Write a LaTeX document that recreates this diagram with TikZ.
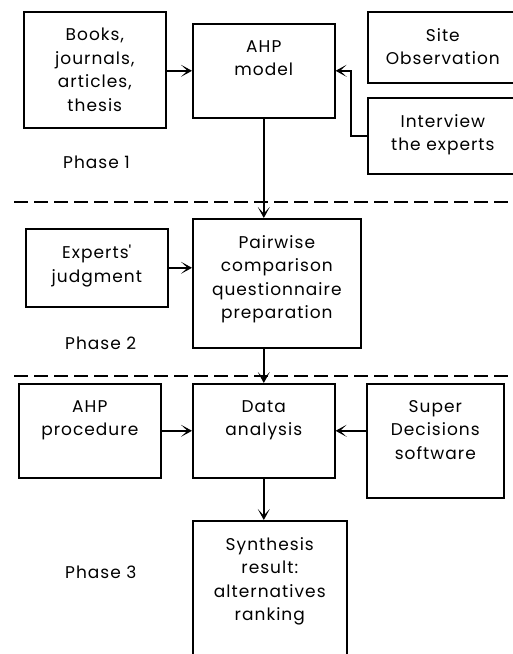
\documentclass[tikz,border=0pt]{standalone}
\usepackage{fontspec}
\setmainfont{Poppins}[LetterSpace=6]
\usepackage{tikz}
\usetikzlibrary{arrows.meta,positioning}
\tikzset{
    %Define standard arrow tip
    >={Stealth[length=11pt,width=12pt,inset=6.5pt]},
    %Define style for boxes
    block/.style={
           rectangle,
           draw=black, line width=1.6pt,
           anchor=north west,
           inner sep=0pt},
    %Text sits at the top of every box
    caption/.style={
           anchor=north,
           align=center,
           inner sep=0pt,
           yshift=-17pt,
           font=\fontsize{17}{23.5}\selectfont},
    phase/.style={
           anchor=base west,
           inner sep=0pt,
           font=\fontsize{17}{23.5}\selectfont},
    % Define arrow style
    pil/.style={
           ->,
           line width=1.6pt},
    sep/.style={
           dash pattern=on 14pt off 6pt,
           line width=1.6pt}
}

\begin{document}
\begin{tikzpicture}[x=1pt,y=-1pt]
\useasboundingbox (0,0) rectangle (513,654);
\clip (0,0) rectangle (513,654);
% Phase 1
\node[block,minimum width=142pt,minimum height=116pt](books) at (23,11)
    [label={[caption]north:{Books,\\journals,\\articles,\\thesis}}] {};
\node[block,minimum width=142pt,minimum height=94pt](ahp) at (192,23)
    [label={[caption]north:{AHP\\model}}] {};
\node[block,minimum width=150pt,minimum height=71pt](site) at (367,11)
    [label={[caption]north:{Site\\Observation}}] {};
\node[block,minimum width=150pt,minimum height=76pt](interview) at (367,97)
    [label={[caption]north:{Interview\\the experts}}] {};
\node[phase](ph1) at (63,168) {Phase 1};
% Phase 2
\node[block,minimum width=142pt,minimum height=78pt](experts) at (25,228)
    [label={[caption]north:{Experts\textquotesingle\\judgment}}] {};
\node[block,minimum width=168pt,minimum height=129pt](pairwise) at (192,218)
    [label={[caption]north:{Pairwise\\comparison\\questionnaire\\preparation}}] {};
\node[phase](ph2) at (65,349) {Phase 2};
% Phase 3
\node[block,minimum width=142pt,minimum height=94pt](proc) at (18,383)
    [label={[caption]north:{AHP\\procedure}}] {};
\node[block,minimum width=142pt,minimum height=94pt](data) at (192,383)
    [label={[caption]north:{Data\\analysis}}] {};
\node[block,minimum width=137pt,minimum height=114pt](superd) at (366,383)
    [label={[caption]north:{Super\\Decisions\\software}}] {};
\node[block,minimum width=154pt,minimum height=150pt](synth) at (192,520)
    [label={[caption]north:{Synthesis\\result:\\alternatives\\ranking}}] {};
\node[phase](ph3) at (65,578) {Phase 3};
% phase borders
\draw[sep] (14,202) -- (520,202);
\draw[sep] (14,376) -- (520,376);
% links
\draw[pil] (books.east |- ahp) -- (ahp);
\draw[pil] (interview.west) -- ++(-16,0) |- (ahp);
\draw[pil] (ahp) -- (ahp |- pairwise.north);
\draw[pil] (experts) -- (experts -| pairwise.west);
\draw[pil] (data |- pairwise.south) -- (data);
\draw[pil] (proc) -- (data);
\draw[pil] (superd.west |- data) -- (data);
\draw[pil] (data) -- (data |- synth.north);
\end{tikzpicture}
\end{document}
